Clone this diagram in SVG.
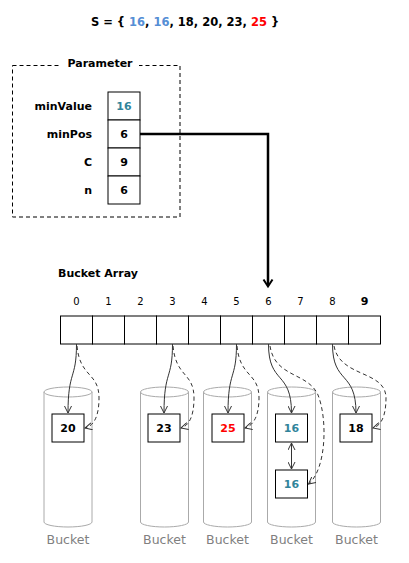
<svg xmlns="http://www.w3.org/2000/svg" width="409" height="563" viewBox="0 0 409 563">
<style>
text{font-family:"DejaVu Sans",Verdana,sans-serif}
.b{font-weight:bold;font-size:11px;fill:#000}
.c{text-anchor:middle}
.r{text-anchor:end}
.idx{font-size:10px;fill:#000;text-anchor:middle}
.bl{font-size:12.5px;fill:#808080;text-anchor:middle}
.cell{fill:#fff;stroke:#000;stroke-width:1}
.cyl{fill:#fff;stroke:#aaa;stroke-width:1}
.con{fill:none;stroke:#333;stroke-width:1;marker-end:url(#oa)}
.dash{stroke-dasharray:4,3}
.teal{fill:#31849B}
.blue{fill:#558ED5}
.red{fill:#FF0000}
</style>
<defs>
<marker id="oa" viewBox="0 0 8 8" refX="7" refY="4" markerWidth="8" markerHeight="8" markerUnits="userSpaceOnUse" orient="auto">
<path d="M0,0.5 L7,4 L0,7.5" fill="none" stroke="#333" stroke-width="1" stroke-dasharray="none"/>
</marker>
<marker id="oas" viewBox="0 0 8 8" refX="7" refY="4" markerWidth="8" markerHeight="8" markerUnits="userSpaceOnUse" orient="auto-start-reverse">
<path d="M0,0.5 L7,4 L0,7.5" fill="none" stroke="#333" stroke-width="1"/>
</marker>
</defs>
<rect width="409" height="563" fill="#fff"/>
<text id="title" x="185" y="26" class="c" style="font-weight:bold;font-size:11.5px">S = { <tspan class="blue">16</tspan>, <tspan class="blue">16</tspan>, 18, 20, 23, <tspan class="red">25</tspan> }</text>

<g id="parameter">
<rect x="12.5" y="65.5" width="167.5" height="151.5" fill="none" stroke="#000" stroke-dasharray="4,3"/>
<rect x="61" y="58" width="78" height="14" fill="#fff"/>
<text x="100" y="67" class="b c">Parameter</text>
<rect class="cell" x="108" y="92" width="32" height="28"/>
<rect class="cell" x="108" y="120" width="32" height="28"/>
<rect class="cell" x="108" y="148" width="32" height="28"/>
<rect class="cell" x="108" y="176" width="32" height="28"/>
<text x="92" y="110" class="b r">minValue</text>
<text x="92" y="138" class="b r">minPos</text>
<text x="92" y="166" class="b r">C</text>
<text x="92" y="194" class="b r">n</text>
<text x="124" y="110" class="b c teal">16</text>
<text x="124" y="138" class="b c">6</text>
<text x="124" y="166" class="b c">9</text>
<text x="124" y="194" class="b c">6</text>
</g>

<g id="bucket-array">
<text x="58" y="277" class="b">Bucket Array</text>
<rect class="cell" x="60.5" y="316" width="32" height="28"/>
<rect class="cell" x="92.5" y="316" width="32" height="28"/>
<rect class="cell" x="124.5" y="316" width="32" height="28"/>
<rect class="cell" x="156.5" y="316" width="32" height="28"/>
<rect class="cell" x="188.5" y="316" width="32" height="28"/>
<rect class="cell" x="220.5" y="316" width="32" height="28"/>
<rect class="cell" x="252.5" y="316" width="32" height="28"/>
<rect class="cell" x="284.5" y="316" width="32" height="28"/>
<rect class="cell" x="316.5" y="316" width="32" height="28"/>
<rect class="cell" x="348.5" y="316" width="32" height="28"/>
<text x="76.5" y="305" class="idx">0</text>
<text x="108.5" y="305" class="idx">1</text>
<text x="140.5" y="305" class="idx">2</text>
<text x="172.5" y="305" class="idx">3</text>
<text x="204.5" y="305" class="idx">4</text>
<text x="236.5" y="305" class="idx">5</text>
<text x="268.5" y="305" class="idx">6</text>
<text x="300.5" y="305" class="idx">7</text>
<text x="332.5" y="305" class="idx">8</text>
<text x="364.5" y="305" class="idx" style="font-weight:bold;font-size:11px">9</text>
</g>

<g id="bucket0">
<path class="cyl" d="M44,392 L44,522 A24,5 0 0 0 92,522 L92,392"/>
<ellipse class="cyl" cx="68" cy="392" rx="24" ry="5"/>
<rect class="cell" x="52" y="414" width="32" height="28"/>
<text x="68" y="432" class="b c">20</text>
<text x="68" y="544" class="bl">Bucket</text>
</g>
<g id="bucket3">
<path class="cyl" d="M140.5,392 L140.5,522 A24,5 0 0 0 188.5,522 L188.5,392"/>
<ellipse class="cyl" cx="164.5" cy="392" rx="24" ry="5"/>
<rect class="cell" x="148" y="414" width="32" height="28"/>
<text x="164" y="432" class="b c">23</text>
<text x="164.5" y="544" class="bl">Bucket</text>
</g>
<g id="bucket5">
<path class="cyl" d="M203.5,392 L203.5,522 A24,5 0 0 0 251.5,522 L251.5,392"/>
<ellipse class="cyl" cx="227.5" cy="392" rx="24" ry="5"/>
<rect class="cell" x="212" y="414" width="32" height="28"/>
<text x="228" y="432" class="b c red">25</text>
<text x="227.5" y="544" class="bl">Bucket</text>
</g>
<g id="bucket6">
<path class="cyl" d="M267.5,392 L267.5,522 A24,5 0 0 0 315.5,522 L315.5,392"/>
<ellipse class="cyl" cx="291.5" cy="392" rx="24" ry="5"/>
<rect class="cell" x="275.5" y="414" width="32" height="28"/>
<text x="291.5" y="432" class="b c teal">16</text>
<rect class="cell" x="275.5" y="470" width="32" height="28"/>
<text x="291.5" y="488" class="b c teal">16</text>
<text x="291.5" y="544" class="bl">Bucket</text>
</g>
<g id="bucket8">
<path class="cyl" d="M332.5,392 L332.5,522 A24,5 0 0 0 380.5,522 L380.5,392"/>
<ellipse class="cyl" cx="356.5" cy="392" rx="24" ry="5"/>
<rect class="cell" x="340" y="414" width="32" height="28"/>
<text x="356" y="432" class="b c">18</text>
<text x="356.5" y="544" class="bl">Bucket</text>
</g>

<g id="connectors">
<polyline points="140,134 268,134 268,285" fill="none" stroke="#000" stroke-width="2.5"/>
<path d="M263.5,279.5 L268,286.5 L272.5,279.5" fill="none" stroke="#000" stroke-width="2"/>
<path class="con" d="M76.5,344 C76.5,380 68,370 68,413"/>
<path class="con dash" d="M77,346 C80,378 99,372 99,398 C99,418 93,426 85,428"/>
<path class="con" d="M172.5,344 C172.5,380 164,370 164,413"/>
<path class="con dash" d="M173,346 C176,378 194,372 194,398 C194,418 188,426 181,428"/>
<path class="con" d="M236.5,344 C236.5,380 228,370 228,413"/>
<path class="con dash" d="M237,346 C240,378 259,372 259,398 C259,418 252,426 245,428"/>
<path class="con" d="M268.5,344 C268.5,385 291.5,370 291.5,413"/>
<path class="con dash" d="M270,346 C275,378 308,372 318,395 C328,420 326,470 308.5,484"/>
<path class="con" d="M332.5,344 C332.5,385 356,370 356,413"/>
<path class="con dash" d="M334,346 C340,378 386,370 386,398 C386,418 380,426 373,428"/>
<path d="M291.5,443 L291.5,469" fill="none" stroke="#333" stroke-width="1" marker-start="url(#oas)" marker-end="url(#oas)"/>
</g>
</svg>
